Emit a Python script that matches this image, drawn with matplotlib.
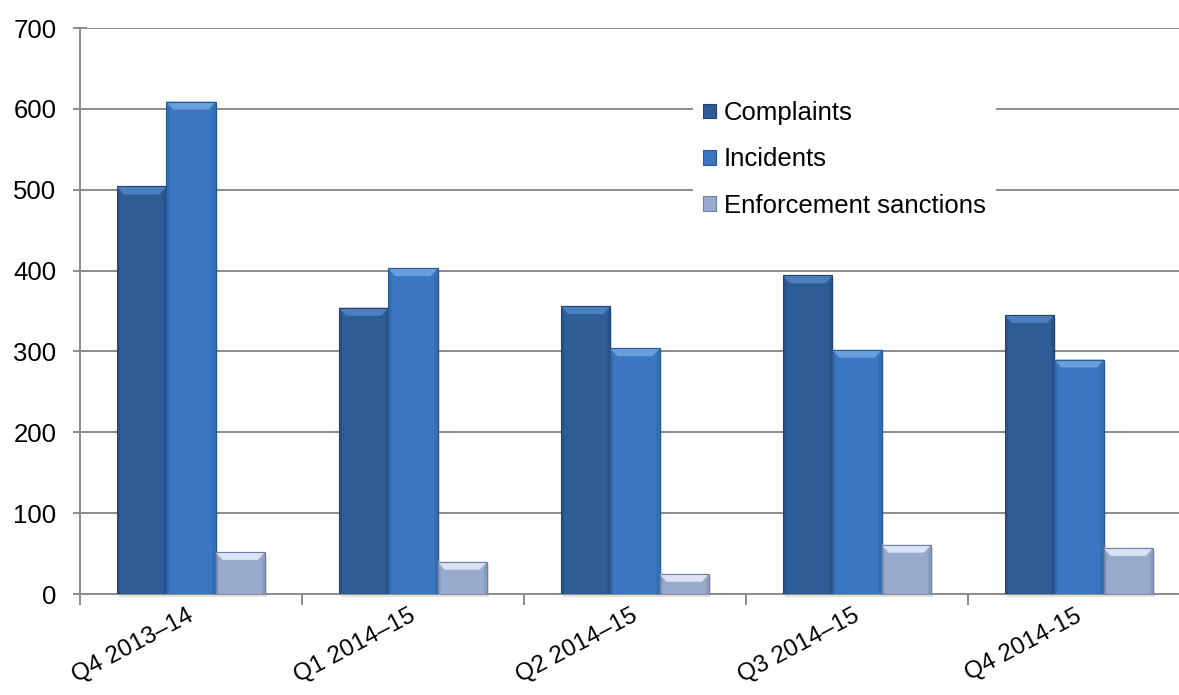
import matplotlib.pyplot as plt
import numpy as np
from matplotlib.patches import Polygon, Rectangle

plt.rcParams['font.family'] = ['Liberation Sans', 'DejaVu Sans']

quarters = ['Q4 2013–14', 'Q1 2014–15', 'Q2 2014–15', 'Q3 2014–15', 'Q4 2014-15']
complaints = [504, 354, 356, 394, 345]
incidents = [609, 403, 304, 302, 290]
sanctions = [52, 40, 25, 61, 57]
series_names = ['Complaints', 'Incidents', 'Enforcement sanctions']

# face, top bevel, edge/side shade
palette = [
    ('#2e5c95', '#4d7fbf', '#1f446f'),
    ('#3a77c0', '#6a9fdd', '#285a94'),
    ('#98abcf', '#d9e3f4', '#6f82a6'),
]

FS = 18.5
W, H = 1179, 695
fig = plt.figure(figsize=(W / 100, H / 100), dpi=100)
ax = fig.add_axes([80 / W, 1 - 594 / H, (1190 - 80) / W, (594 - 28) / H])
ax.set_xlim(-0.5, len(quarters) - 0.5)
ax.set_ylim(0, 700)

grid_col = '#8c8c8c'
ax.set_yticks(np.arange(0, 701, 100))
ax.yaxis.grid(True, color=grid_col, linewidth=1.4)
ax.set_axisbelow(True)
for s in ['top', 'right']:
    ax.spines[s].set_visible(False)
for s in ['left', 'bottom']:
    ax.spines[s].set_color(grid_col)
    ax.spines[s].set_linewidth(1.4)

x = np.arange(len(quarters))
bw = 0.222
offsets = [-bw, 0, bw]
data = [complaints, incidents, sanctions]

# pixel sizes converted to data units
px_x = 1.0 / (ax.transData.transform((1, 0))[0] - ax.transData.transform((0, 0))[0])
px_y = 1.0 / (ax.transData.transform((0, 1))[1] - ax.transData.transform((0, 0))[1])

containers = []
for vals, off, (face, light, dark), name in zip(data, offsets, palette, series_names):
    bars = ax.bar(x + off, vals, bw, color=face, edgecolor=dark, linewidth=0.8,
                  label=name, zorder=3)
    containers.append(bars)
    for b in bars:
        x0, w, h = b.get_x(), b.get_width(), b.get_height()
        bx, by = 7 * px_x, min(8 * px_y, h / 2)
        # soft drop shadow
        ax.add_patch(Rectangle((x0 + 2 * px_x, -3 * px_y), w, h, color='#000000',
                               alpha=0.12, zorder=2.5, clip_on=False, linewidth=0))
        # top bevel
        ax.add_patch(Polygon([(x0, h), (x0 + w, h), (x0 + w - bx, h - by), (x0 + bx, h - by)],
                             closed=True, facecolor=light, edgecolor='none', zorder=4))
        # side shading
        sx = 3 * px_x
        ax.add_patch(Polygon([(x0, h), (x0 + sx, h - by), (x0 + sx, 0), (x0, 0)],
                             closed=True, facecolor=dark, alpha=0.35, edgecolor='none', zorder=4))
        ax.add_patch(Polygon([(x0 + w, h), (x0 + w - sx, h - by), (x0 + w - sx, 0), (x0 + w, 0)],
                             closed=True, facecolor=dark, alpha=0.35, edgecolor='none', zorder=4))
        ax.add_patch(Rectangle((x0, h), w, 0, fill=False, edgecolor=dark, linewidth=0.8, zorder=5))

# labels hang from a point slightly left of each group centre (ticks themselves are hidden)
ax.set_xticks(x - 4 * px_x)
ax.set_xticklabels(quarters, rotation=28, ha='right', rotation_mode='anchor', fontsize=17.5)
ax.tick_params(axis='x', which='major', length=0, pad=8)
ax.set_xticks(np.arange(-0.5, len(quarters), 1.0), minor=True)
ax.tick_params(axis='x', which='minor', length=8, width=1.4, color=grid_col, direction='out')
ax.tick_params(axis='y', length=10, width=1.4, color=grid_col, direction='inout',
               labelsize=FS, pad=12)

ax.legend(handles=containers, labels=series_names, loc='upper left',
          bbox_to_anchor=(680 / W, 1 - 78 / H), bbox_transform=fig.transFigure,
          fontsize=FS, frameon=True, facecolor='white', edgecolor='none', framealpha=1,
          fancybox=False, handlelength=0.5, handleheight=0.5, handletextpad=0.3,
          labelspacing=0.87, borderpad=0.4)

fig.savefig('out.png', dpi=100)
